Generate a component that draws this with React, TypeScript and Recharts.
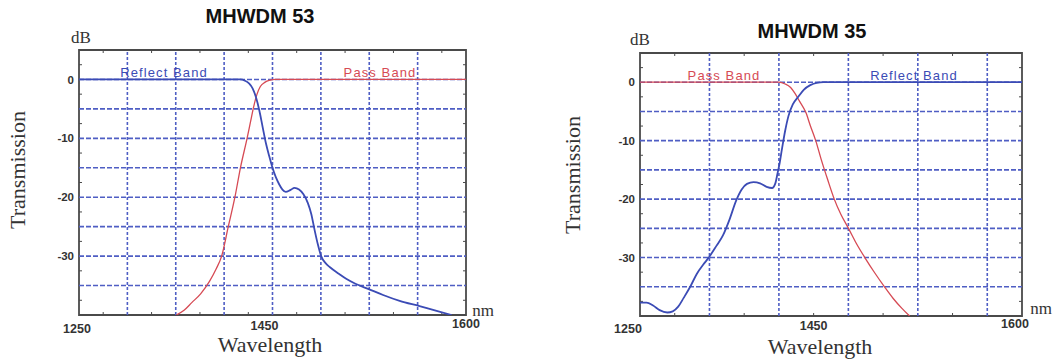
import React from 'react';
import { LineChart, Line, XAxis, YAxis, ReferenceArea, ReferenceLine } from 'recharts';

// ---------- axis values ----------
const NM_DOMAIN: [number, number] = [1250, 1600];
const DB_DOMAIN: [number, number] = [-40, 5];

const yGridDb = [-35, -30, -25, -20, -15, -10, -5, 0];
const yMinorDb = [-37.5, -32.5, -27.5, -22.5, -17.5, -12.5, -7.5, -2.5, 2.5];
const yTickDb = [0, -10, -20, -30];
const yTickText = ['0', '-10', '-20', '-30'];

// left panel: 8 grid divisions
const leftGridNm = [1293.75, 1337.5, 1381.25, 1425, 1468.75, 1512.5, 1556.25];
const leftMinorNm = [1271.875, 1315.625, 1359.375, 1403.125, 1446.875, 1490.625, 1534.375, 1578.125];
const leftTickNm = [1250, 1425, 1600];
const leftTickText = ['1250', '1450', '1600'];

// right panel: 11 minor divisions
const rightGridNm = [1313.64, 1377.27, 1440.91, 1504.55, 1568.18];
const rightMinorNm = [1281.82, 1345.45, 1409.09, 1472.73, 1536.36];
const rightTickNm = [1250, 1409.09, 1600];
const rightTickText = ['1250', '1450', '1600'];

// ---------- series (MHWDM 53) ----------
const left53ReflectNm = [1250, 1396, 1400, 1404, 1407, 1410, 1413, 1416, 1419, 1422, 1425, 1428, 1431, 1434, 1437, 1441, 1445, 1449, 1453, 1457, 1460, 1463, 1466, 1469, 1473, 1477, 1485, 1492, 1500, 1512, 1525, 1540, 1558, 1575, 1587];
const left53ReflectDb = [0, 0, -0.2, -0.7, -1.5, -3, -5.2, -8, -10.8, -13, -15, -16.6, -17.8, -18.7, -19.1, -18.8, -18.4, -18.7, -19.5, -21, -22.8, -25.5, -28, -30, -31.2, -31.9, -33, -33.9, -34.7, -35.6, -36.6, -37.6, -38.5, -39.4, -40];
const left53PassNm = [1338, 1345, 1352, 1360, 1368, 1374, 1379, 1385, 1391, 1396, 1402, 1405, 1408, 1411, 1414, 1418, 1422, 1428, 1600];
const left53PassDb = [-40, -39.2, -37.9, -36.4, -34.3, -32.2, -30, -25, -20, -15, -10, -7.3, -4.6, -2.5, -1.2, -0.5, -0.15, 0, 0];

// ---------- series (MHWDM 35) ----------
const right35PassNm = [1250, 1377, 1383, 1388, 1392, 1396, 1402, 1406, 1411, 1416, 1422, 1428, 1434, 1441, 1448, 1456, 1465, 1474, 1482, 1490, 1497];
const right35PassDb = [0, 0, -0.3, -0.9, -1.9, -3.2, -5.2, -7.4, -10, -13.2, -16.7, -20, -22.6, -25, -27.5, -30, -32.6, -35, -37, -38.7, -40];
const right35ReflectNm = [1250, 1256, 1262, 1268, 1275, 1280, 1285, 1290, 1296, 1302, 1308, 1313, 1320, 1326, 1332, 1338, 1343, 1348, 1354, 1360, 1366, 1371, 1374, 1376, 1378, 1380, 1383, 1386, 1390, 1395, 1400, 1406, 1412, 1418, 1600];
const right35ReflectDb = [-37.7, -37.7, -38.2, -39, -39.4, -39.2, -38.4, -36.9, -35, -32.8, -31.2, -30, -28, -26.2, -23.5, -20.3, -18.4, -17.4, -17.1, -17.3, -17.9, -18.1, -17.3, -15.6, -13.8, -11.5, -8.3, -5.8, -3.8, -2.5, -1.3, -0.5, -0.1, 0, 0];

const zip = (nm: number[], db: number[]) => nm.map((v, i) => ({ nm: v, db: db[i] }));

// ---------- styles ----------
const BLUE = '#3b4bb5';
const RED = '#d64a54';
const GRID = '#4f5ec4';
const FRAME = '#4a4a4a';
const SANS = '"Liberation Sans", Arial, sans-serif';
const SERIF = '"Liberation Serif", "Times New Roman", serif';

type PanelProps = {
  left: number;
  width: number;
  margin: { top: number; right: number; bottom: number; left: number };
  gridNm: number[];
  minorNm: number[];
  tickNm: number[];
  tickText: string[];
  tickDx: number[];
  tickDy: number[];
  pass: { nm: number; db: number }[];
  reflect: { nm: number; db: number }[];
};

function Panel(p: PanelProps) {
  const plotW = p.width - p.margin.left - p.margin.right - 30;
  const plotH = 364 - p.margin.top - p.margin.bottom - 25;
  const tickLenNm = ((NM_DOMAIN[1] - NM_DOMAIN[0]) / plotW) * 3;
  const tickLenDb = ((DB_DOMAIN[1] - DB_DOMAIN[0]) / plotH) * 3;

  const renderXTick = (props: any) => {
    const { x, y, payload } = props;
    const i = p.tickNm.findIndex((v) => Math.abs(v - payload.value) < 0.01);
    if (i < 0) return <g />;
    return (
      <text x={x + p.tickDx[i]} y={y + p.tickDy[i]} textAnchor="middle" fontFamily={SANS} fontWeight="bold" fontSize={12.5} fill="#333">
        {p.tickText[i]}
      </text>
    );
  };

  const minorSegs: { a: { x: number; y: number }; b: { x: number; y: number } }[] = [];
  p.minorNm.forEach((v) => {
    minorSegs.push({ a: { x: v, y: DB_DOMAIN[0] }, b: { x: v, y: DB_DOMAIN[0] + tickLenDb } });
    minorSegs.push({ a: { x: v, y: DB_DOMAIN[1] }, b: { x: v, y: DB_DOMAIN[1] - tickLenDb } });
  });
  yMinorDb.forEach((v) => {
    minorSegs.push({ a: { x: NM_DOMAIN[0], y: v }, b: { x: NM_DOMAIN[0] + tickLenNm, y: v } });
    minorSegs.push({ a: { x: NM_DOMAIN[1], y: v }, b: { x: NM_DOMAIN[1] - tickLenNm, y: v } });
  });

  return (
    <div style={{ position: 'absolute', left: p.left, top: 0 }}>
      <LineChart width={p.width} height={364} margin={p.margin}>
        <XAxis
          type="number"
          dataKey="nm"
          domain={NM_DOMAIN}
          allowDataOverflow
          ticks={p.tickNm}
          interval={0}
          tick={renderXTick}
          tickLine={false}
          axisLine={false}
          height={25}
        />
        <YAxis
          type="number"
          domain={DB_DOMAIN}
          allowDataOverflow
          ticks={yTickDb}
          interval={0}
          tickFormatter={(v: number) => {
            const i = yTickDb.indexOf(v);
            return i >= 0 ? yTickText[i] : '';
          }}
          tick={{ fontFamily: SANS, fontWeight: 'bold', fontSize: 11.5, fill: '#333' }}
          tickLine={false}
          tickSize={0}
          tickMargin={5}
          axisLine={false}
          width={30}
        />
        {yGridDb.map((v) => (
          <ReferenceLine key={'h' + v} y={v} stroke={GRID} strokeWidth={1.6} strokeDasharray="5 2" />
        ))}
        {p.gridNm.map((v) => (
          <ReferenceLine key={'v' + v} x={v} stroke={GRID} strokeWidth={1.6} strokeDasharray="3 2" />
        ))}
        {minorSegs.map((s, i) => (
          <ReferenceLine key={'m' + i} segment={[s.a, s.b]} stroke={FRAME} strokeWidth={1} ifOverflow="visible" />
        ))}
        <Line data={p.pass} dataKey="db" type="monotone" dot={false} stroke={RED} strokeWidth={1.3} isAnimationActive={false} />
        <Line data={p.reflect} dataKey="db" type="monotone" dot={false} stroke={BLUE} strokeWidth={1.8} isAnimationActive={false} />
        <ReferenceArea x1={NM_DOMAIN[0]} x2={NM_DOMAIN[1]} y1={DB_DOMAIN[0]} y2={DB_DOMAIN[1]} fill="none" fillOpacity={0} stroke={FRAME} strokeWidth={1.8} ifOverflow="visible" />
      </LineChart>
    </div>
  );
}

const T = (props: { x: number; y: number; children: React.ReactNode; style?: React.CSSProperties; rotate?: boolean }) => (
  <div
    style={{
      position: 'absolute',
      left: props.x,
      top: props.y,
      transform: `translate(-50%, -50%)${props.rotate ? ' rotate(-90deg)' : ''}`,
      whiteSpace: 'nowrap',
      lineHeight: 1,
      ...props.style,
    }}
  >
    {props.children}
  </div>
);

export default function App() {
  const title: React.CSSProperties = { fontFamily: SANS, fontWeight: 'bold', fontSize: 20, color: '#111' };
  const unit: React.CSSProperties = { fontFamily: SERIF, fontSize: 17, color: '#333' };
  const axisTitle: React.CSSProperties = { fontFamily: SERIF, fontSize: 22, color: '#333' };
  const band = (c: string): React.CSSProperties => ({ fontFamily: SANS, fontSize: 13, letterSpacing: 1.1, color: c });
  return (
    <div style={{ position: 'absolute', left: 0, top: 0, width: 1055, height: 364, background: '#fff', overflow: 'hidden' }}>
      <Panel
        left={0}
        width={540}
        margin={{ top: 50, right: 74, bottom: 24, left: 49 }}
        gridNm={leftGridNm}
        minorNm={leftMinorNm}
        tickNm={leftTickNm}
        tickText={leftTickText}
        tickDx={[-2, -8, 0]}
        tickDy={[10, 7, 5]}
        pass={zip(left53PassNm, left53PassDb)}
        reflect={zip(left53ReflectNm, left53ReflectDb)}
      />
      <Panel
        left={540}
        width={515}
        margin={{ top: 53, right: 33, bottom: 23, left: 70 }}
        gridNm={rightGridNm}
        minorNm={rightMinorNm}
        tickNm={rightTickNm}
        tickText={rightTickText}
        tickDx={[-12, 0, -7]}
        tickDy={[9, 6, 4]}
        pass={zip(right35PassNm, right35PassDb)}
        reflect={zip(right35ReflectNm, right35ReflectDb)}
      />
      <T x={260} y={16} style={title}>MHWDM 53</T>
      <T x={81} y={37} style={unit}>dB</T>
      <T x={483} y={310} style={unit}>nm</T>
      <T x={18} y={170} style={axisTitle} rotate>Transmission</T>
      <T x={270} y={345} style={axisTitle}>Wavelength</T>
      <T x={164} y={72} style={band(BLUE)}>Reflect Band</T>
      <T x={380} y={72} style={band(RED)}>Pass Band</T>

      <T x={812} y={31} style={title}>MHWDM 35</T>
      <T x={640} y={39} style={unit}>dB</T>
      <T x={1041} y={308} style={unit}>nm</T>
      <T x={573} y={175} style={axisTitle} rotate>Transmission</T>
      <T x={820} y={347} style={axisTitle}>Wavelength</T>
      <T x={724} y={75} style={band(RED)}>Pass Band</T>
      <T x={914} y={75} style={band(BLUE)}>Reflect Band</T>
    </div>
  );
}
